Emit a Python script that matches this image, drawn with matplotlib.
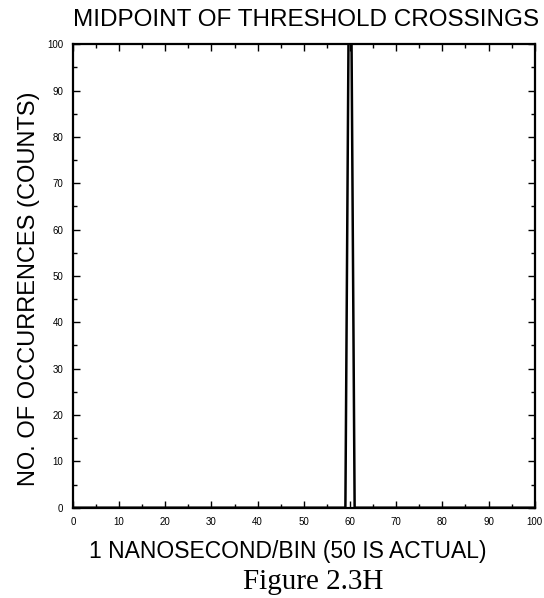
import numpy as np
import matplotlib.pyplot as plt
from matplotlib.ticker import MultipleLocator

# histogram of threshold-crossing midpoints, 1 ns per bin
bins = [0, 58, 59, 60, 61, 62, 100]
counts = [0, 0, 0, 150, 0, 0, 0]

x_ticks = [0, 10, 20, 30, 40, 50, 60, 70, 80, 90, 100]
y_ticks = [0, 10, 20, 30, 40, 50, 60, 70, 80, 90, 100]

plt.rcParams['font.family'] = ['Liberation Sans', 'DejaVu Sans']

fig = plt.figure(figsize=(5.44, 5.98), dpi=100)
ax = fig.add_axes([0.134, 0.151, 0.849, 0.775])

ax.plot(bins, counts, color='black', lw=1.8)

ax.set_xlim(0, 100)
ax.set_ylim(0, 100)
ax.set_xticks(x_ticks)
ax.set_yticks(y_ticks)
ax.xaxis.set_minor_locator(MultipleLocator(5))
ax.yaxis.set_minor_locator(MultipleLocator(5))
ax.tick_params(which='both', direction='in', top=True, right=True, labelsize=7, pad=7)
ax.tick_params(which='major', length=5, width=1)
ax.tick_params(which='minor', length=3, width=1)
for s in ax.spines.values():
    s.set_linewidth(1.6)

ax.set_title("MIDPOINT OF THRESHOLD CROSSINGS", fontsize=17.5, x=0.505, pad=13)
ax.set_xlabel("1 NANOSECOND/BIN (50 IS ACTUAL)", fontsize=16.5, labelpad=9, x=0.465)
ax.set_ylabel("NO. OF OCCURRENCES (COUNTS)", fontsize=17, labelpad=5, y=0.472)
fig.text(0.576, 0.015, "Figure 2.3H", family='Liberation Serif', fontsize=21, ha='center')

fig.savefig("out.png", dpi=100)
